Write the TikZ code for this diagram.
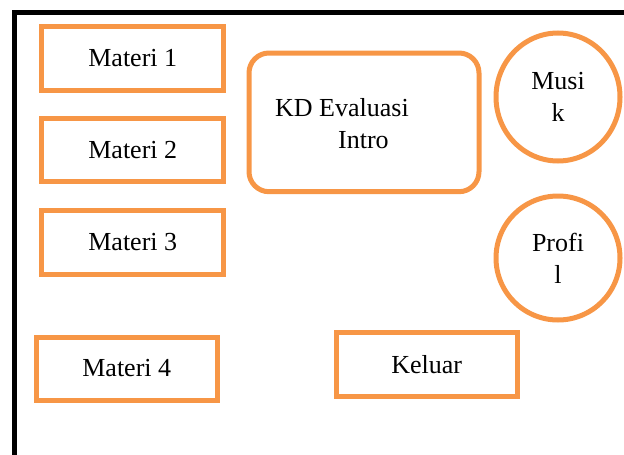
\documentclass[tikz,border=0pt]{standalone}
\usepackage{fontspec}
\setmainfont{Liberation Serif}
\usetikzlibrary{shapes.geometric}
\definecolor{accentorange}{HTML}{F79646}
\tikzset{
  menubox/.style={draw=accentorange, line width=5pt, rectangle,
    minimum width=182pt, minimum height=63.5pt, inner sep=0pt},
  roundbox/.style={draw=accentorange, line width=5pt, rectangle,
    rounded corners=20pt, minimum width=230pt, minimum height=138.7pt, inner sep=0pt},
  roundbtn/.style={draw=accentorange, line width=5pt, ellipse,
    minimum width=124pt, minimum height=128pt, inner sep=0pt, align=center},
  label/.style={inner sep=0pt}
}
\begin{document}
\begin{tikzpicture}[x=1pt, y=-1pt, font=\fontsize{26}{32}\selectfont]
  \useasboundingbox (0,0) rectangle (624,455);
  % screen frame (top and left edges)
  \draw[line width=5pt] (624,12) -- (14,12) -- (14,455);

  % menu entries
  \node[menubox] (m1) at (132.75,58.35) {Materi 1};
  \node[menubox] (m2) at (132.75,150.2) {Materi 2};
  \node[menubox] (m3) at (132.75,242.25) {Materi 3};
  \node[menubox, minimum width=181.5pt, minimum height=63pt] (m4) at (126.75,368.5) {Materi 4};
  \node[menubox, minimum width=181.5pt, minimum height=64.2pt] (keluar) at (426.75,364.6) {Keluar};

  % central panel
  \node[roundbox] (kd) at (364,122.35) {};
  \node[label, anchor=base west] (kdtop) at (275,116) {KD Evaluasi};
  \node[label, anchor=base west] (kdbot) at (338,148) {Intro};

  % round buttons
  \node[roundbtn] (musik) at (558,97) {Musi\\k};
  \node[roundbtn, minimum height=124pt] (profil) at (558,258) {Profi\\l};
\end{tikzpicture}
\end{document}
